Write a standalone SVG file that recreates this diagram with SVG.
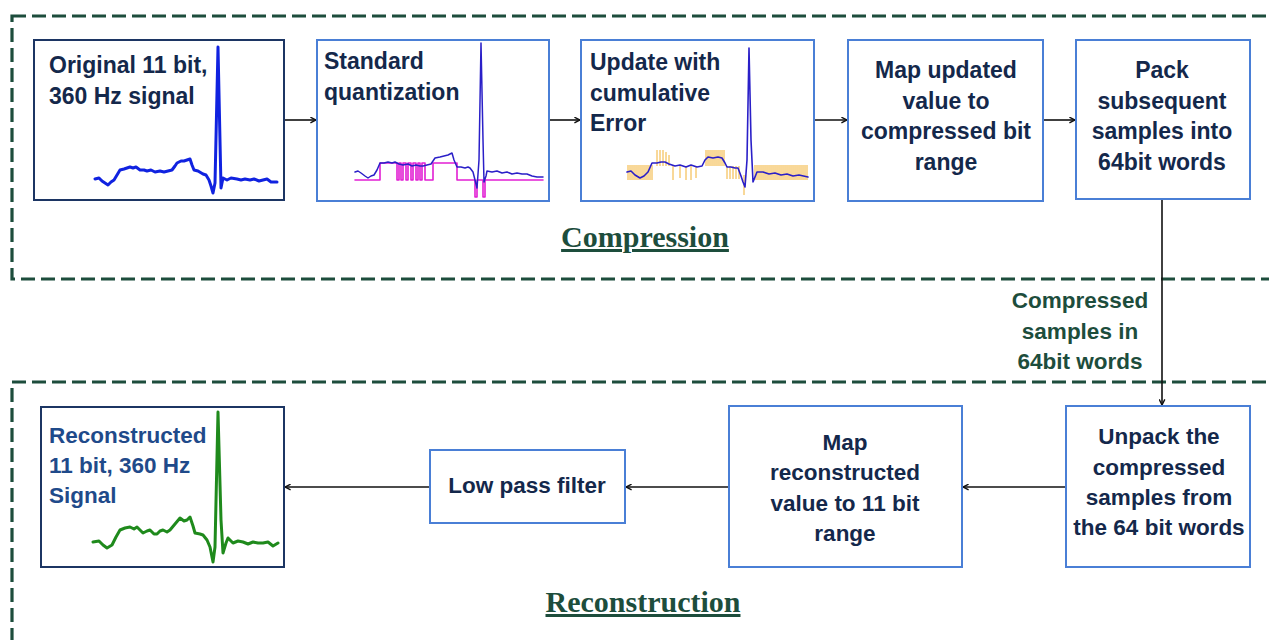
<svg xmlns="http://www.w3.org/2000/svg" width="1269" height="640" viewBox="0 0 1269 640">
<defs>
<style>
.frame{fill:none;stroke:#1d4d3c;stroke-width:3.2;stroke-dasharray:14 6}
.box{fill:#fff;stroke:#4a7fd6;stroke-width:2}
.boxd{fill:#fff;stroke:#1c3563;stroke-width:2}
.t{font-family:"Liberation Sans",Arial,sans-serif;font-weight:bold;font-size:23px;fill:#14284b}
.s{font-size:22.5px}
.tc{text-anchor:middle}
.tb{fill:#1f4a8a}
.title{font-family:"Liberation Serif","Times New Roman",serif;font-weight:bold;font-size:30px;fill:#1d4d3c;text-anchor:middle;text-decoration:underline}
.lbl{font-family:"Liberation Sans",Arial,sans-serif;font-weight:bold;font-size:22.5px;fill:#1d4d3c;text-anchor:middle}
.conn{stroke:#111;stroke-width:1.6;fill:none}
.w{fill:none;stroke-linejoin:round;stroke-linecap:round}
</style>
<marker id="ah" viewBox="0 0 10 10" refX="9" refY="5" markerWidth="7" markerHeight="7" orient="auto" markerUnits="userSpaceOnUse">
<path d="M1,1 L9,5 L1,9" fill="none" stroke="#111" stroke-width="2"/>
</marker>
</defs>
<rect width="1269" height="640" fill="#fff"/>
<g id="frames">
<rect class="frame" x="12" y="16" width="1290" height="263"/>
<rect class="frame" x="12" y="382" width="1290" height="300"/>
<text class="title" x="645" y="247">Compression</text>
<text class="title" x="643" y="612">Reconstruction</text>
</g>
<g id="connectors">
<line class="conn" x1="284" y1="120" x2="316" y2="120" marker-end="url(#ah)"/>
<line class="conn" x1="549" y1="120" x2="580" y2="120" marker-end="url(#ah)"/>
<line class="conn" x1="814" y1="120" x2="847" y2="120" marker-end="url(#ah)"/>
<line class="conn" x1="1043" y1="120" x2="1075" y2="120" marker-end="url(#ah)"/>
<line class="conn" x1="1162" y1="200" x2="1162" y2="405" marker-end="url(#ah)"/>
<line class="conn" x1="1066" y1="487" x2="963" y2="487" marker-end="url(#ah)"/>
<line class="conn" x1="729" y1="487" x2="626" y2="487" marker-end="url(#ah)"/>
<line class="conn" x1="430" y1="487" x2="285" y2="487" marker-end="url(#ah)"/>
<text class="lbl" x="1080" y="308">Compressed</text>
<text class="lbl" x="1080" y="339">samples in</text>
<text class="lbl" x="1080" y="369">64bit words</text>
</g>
<g id="n1">
<rect class="boxd" x="34" y="40" width="250" height="160"/>
<text class="t" x="49" y="73">Original 11 bit,</text>
<text class="t" x="49" y="104">360 Hz signal</text>
<polyline class="w" stroke="#1022e0" stroke-width="3" points="95,179 99,178 102,181 105,183 108,185 111,182 114,180 117,175 120,170 124,169 127,168 130,167 133,168 136,167 140,170 144,170 147,171 151,170 155,172 160,171 164,172 168,171 172,170 175,166 177,163 181,161 184,161 187,160 190,159 192,165 194,170 198,171 203,174 206,175 209,180 211,186 213,193 215,183 218,47 221,188 223,178 227,180 231,178 237,179 241,180 245,179 250,180 254,179 259,181 263,180 267,179 271,182 277,182"/>
</g>
<g id="n2">
<rect class="box" x="317" y="40" width="232" height="161"/>
<text class="t" x="324" y="69">Standard</text>
<text class="t" x="324" y="100">quantization</text>
<polyline class="w" stroke="#e21fd3" stroke-width="1.6" points="355,180 380,180 380,163 397,163 397,180 399,180 399,163 401,163 401,180 403,180 403,163 406,163 406,180 408,180 408,163 411,163 411,180 413,180 413,163 416,163 416,180 418,180 418,163 420,163 420,180 422,180 422,163 425,163 425,180 433,180 433,163 457,163 457,180 475,180 475,197 477,197 477,180 483,180 483,197 485,197 485,180 543,180"/>
<polyline class="w" stroke="#2a1fc8" stroke-width="1.5" points="355,172 358,171 361,173 365,176 368,178 371,176 374,175 377,170 380,163 384,163 388,162 392,163 395,162 399,164 403,165 408,164 412,166 416,165 420,166 423,166 427,165 431,164 435,158 440,157 444,156 448,155 452,153 454,160 457,167 461,167 465,168 468,167 470,168 473,172 475,180 477,188 479,160 481,43 483,140 484,182 486,176 487,171 492,172 497,171 502,173 507,172 512,174 517,173 522,174 527,174 532,176 537,177 543,177"/>
</g>
<g id="n3">
<rect class="box" x="581" y="40" width="233" height="161"/>
<text class="t" x="590" y="70">Update with</text>
<text class="t" x="590" y="101">cumulative</text>
<text class="t" x="590" y="131">Error</text>
<g stroke="#f0a510" stroke-width="1" opacity="0.85">
<path d="M628,165V180M630,165V180M632,165V180M634,165V180M636,165V180M638,165V180M640,165V180M642,165V180M644,165V180M646,165V180M648,165V180M650,165V180M652,165V180"/>
<path d="M657,150V166M660,150V166M663,150V166M666,152V166M669,155V166"/>
<path d="M673,166V180M680,166V178M686,166V180M691,166V180M696,166V178"/>
<path d="M706,150V166M708,150V166M710,150V166M712,150V166M714,150V166M716,150V166M718,150V166M720,150V166M722,150V166M724,150V166"/>
<path d="M727,166V179M730,166V179M733,166V179M736,166V179M739,166V179"/>
<path d="M744,175V195"/>
<path d="M755,165V180M757,165V180M759,165V180M761,165V180M763,165V180M765,165V180M767,165V180M769,165V180M771,165V180M773,165V180M775,165V180M777,165V180M779,165V180M781,165V180M783,165V180M785,165V180M787,165V180M789,165V180M791,165V180M793,165V180M795,165V180M797,165V180M799,165V180M801,165V180M803,165V180M805,165V180M807,165V180"/>
</g>
<polyline class="w" stroke="#2a1fc8" stroke-width="1.6" points="627,172 631,171 635,175 640,178 644,176 648,172 652,163 657,163 661,162 665,162 669,164 675,166 680,165 686,167 691,165 697,167 702,166 705,160 708,157 713,158 718,157 722,158 725,163 727,167 731,167 735,168 738,168 741,176 743,182 745,187 747,160 749,48 751,140 753,182 755,177 757,172 763,172 769,174 775,173 781,175 787,174 793,176 799,175 808,177"/>
</g>
<g id="n4">
<rect class="box" x="848" y="40" width="195" height="161"/>
<text class="t tc" x="946" y="78">Map updated</text>
<text class="t tc" x="946" y="109">value to</text>
<text class="t tc" x="946" y="139">compressed bit</text>
<text class="t tc" x="946" y="170">range</text>
</g>
<g id="n5">
<rect class="box" x="1076" y="40" width="174" height="159"/>
<text class="t tc" x="1162" y="78">Pack</text>
<text class="t tc" x="1162" y="109">subsequent</text>
<text class="t tc" x="1162" y="139">samples into</text>
<text class="t tc" x="1162" y="170">64bit words</text>
</g>
<g id="n6">
<rect class="box" x="1066" y="406" width="184" height="161"/>
<text class="t s tc" x="1159" y="444">Unpack the</text>
<text class="t s tc" x="1159" y="475">compressed</text>
<text class="t s tc" x="1159" y="505">samples from</text>
<text class="t s tc" x="1159" y="535">the 64 bit words</text>
</g>
<g id="n7">
<rect class="box" x="729" y="406" width="233" height="161"/>
<text class="t s tc" x="845" y="450">Map</text>
<text class="t s tc" x="845" y="480">reconstructed</text>
<text class="t s tc" x="845" y="511">value to 11 bit</text>
<text class="t s tc" x="845" y="541">range</text>
</g>
<g id="n8">
<rect class="box" x="430" y="450" width="195" height="73"/>
<text class="t s tc" x="527" y="493">Low pass filter</text>
</g>
<g id="n9">
<rect class="boxd" x="41" y="407" width="243" height="160"/>
<text class="t s tb" x="49" y="443">Reconstructed</text>
<text class="t s tb" x="49" y="473">11 bit, 360 Hz</text>
<text class="t s tb" x="49" y="503">Signal</text>
<polyline class="w" stroke="#1f8a1c" stroke-width="3" points="93,542 99,541 103,545 107,548 112,545 116,537 120,530 125,528 130,527 134,529 137,527 140,530 143,533 147,531 150,530 154,534 157,534 160,531 163,530 167,532 170,530 175,524 180,518 184,521 187,520 190,517 193,526 195,533 200,534 203,535 207,540 210,547 213,562 215,547 218,412 221,520 223,553 226,543 228,538 233,543 238,541 243,542 248,544 253,542 258,543 263,543 268,542 273,546 278,543"/>
</g>
</svg>
